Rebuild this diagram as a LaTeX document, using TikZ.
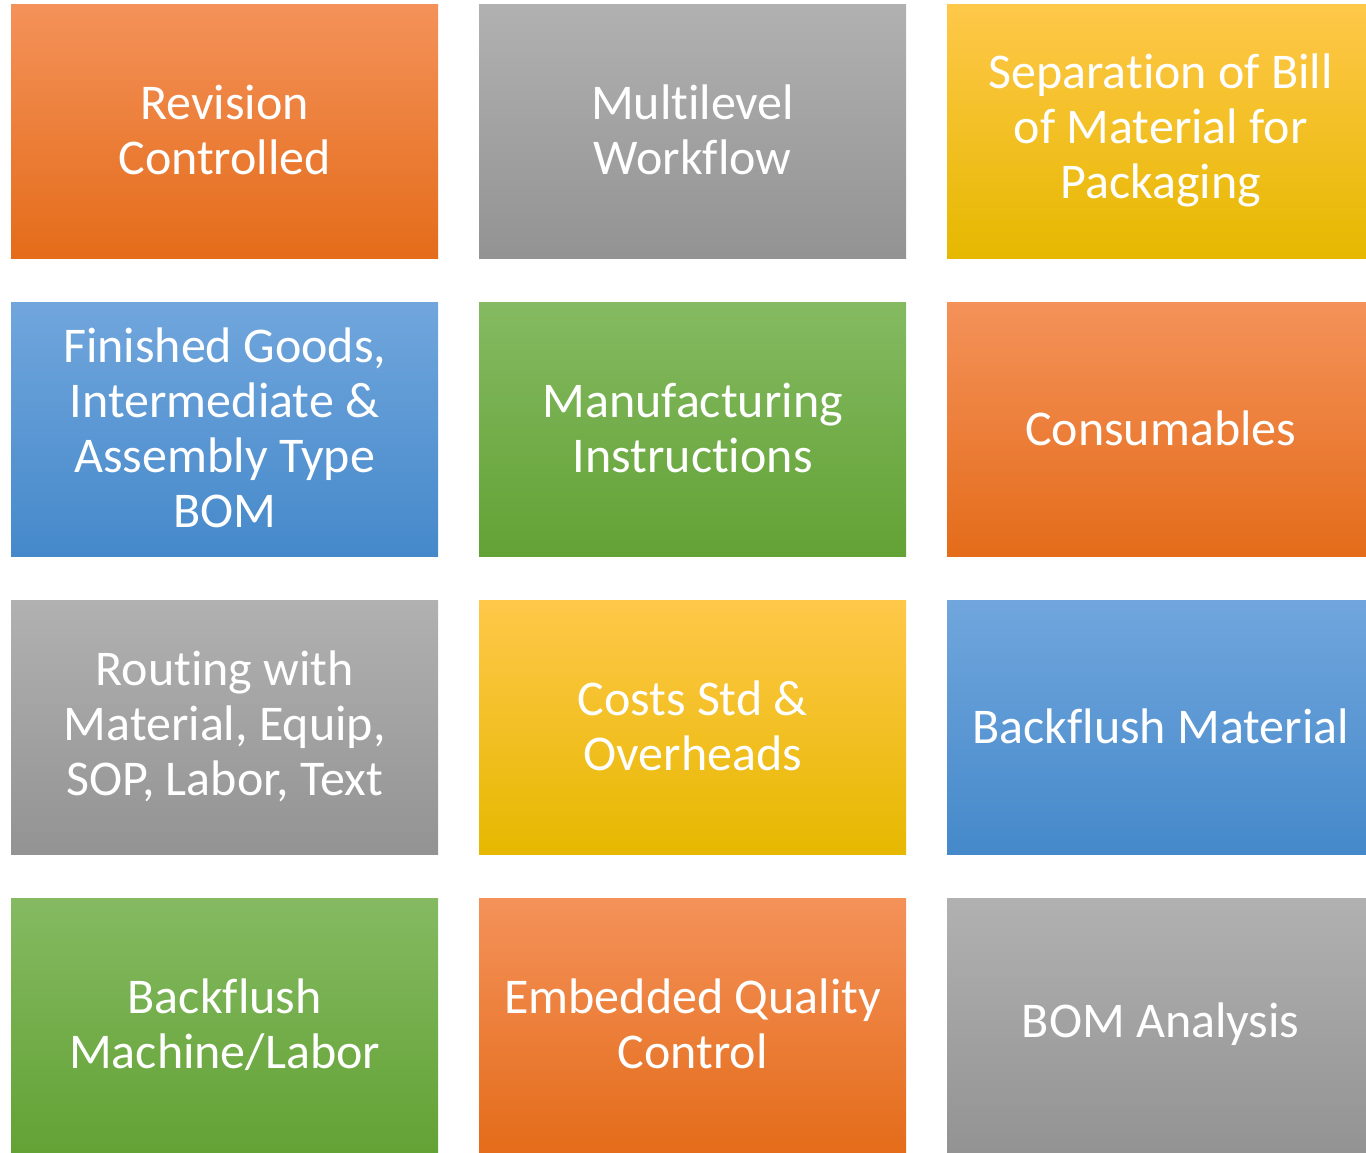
\documentclass[tikz,border=0pt]{standalone}
\usepackage{fontspec}
\setmainfont{Carlito}[Ligatures=CommonOff]
\usepackage{tikz}
\usetikzlibrary{positioning}
\definecolor{orangeT}{HTML}{F4925A}
\definecolor{orangeM}{HTML}{F47B2A}
\definecolor{orangeB}{HTML}{E46C1A}
\definecolor{grayT}{HTML}{B1B1B1}
\definecolor{grayM}{HTML}{A5A5A5}
\definecolor{grayB}{HTML}{939393}
\definecolor{yellowT}{HTML}{FFC84A}
\definecolor{yellowM}{HTML}{FFC000}
\definecolor{yellowB}{HTML}{E6B800}
\definecolor{blueT}{HTML}{71A6DD}
\definecolor{blueM}{HTML}{5B9BD5}
\definecolor{blueB}{HTML}{4589CA}
\definecolor{greenT}{HTML}{85BA62}
\definecolor{greenM}{HTML}{70AD47}
\definecolor{greenB}{HTML}{63A235}
\tikzset{
    tile/.style={anchor=north west, minimum width=427pt, minimum height=256pt,
        inner sep=0pt, text width=420pt, align=flush center, text=white,
        font=\fontsize{50pt}{55pt}\selectfont},
    orangetile/.style={tile, top color=orangeT, middle color=orangeM, bottom color=orangeB},
    graytile/.style={tile, top color=grayT, middle color=grayM, bottom color=grayB},
    yellowtile/.style={tile, top color=yellowT, middle color=yellowM, bottom color=yellowB},
    bluetile/.style={tile, top color=blueT, middle color=blueM, bottom color=blueB},
    greentile/.style={tile, top color=greenT, middle color=greenM, bottom color=greenB}
}

\begin{document}
\begin{tikzpicture}[x=1pt, y=-1pt]
    \useasboundingbox (0,0) rectangle (1366,1152);
    \node[orangetile] (0) at (11,2) {Revision\\Controlled};
    \node[graytile] (1) at (479,2) {Multilevel\\Workflow};
    \node[yellowtile] (2) at (947,2) {Separation of Bill\\of Material for\\Packaging};
    \node[bluetile] (3) at (11,300) {Finished Goods,\\Intermediate \&\\Assembly Type\\BOM};
    \node[greentile] (4) at (479,300) {Manufacturing\\Instructions};
    \node[orangetile] (5) at (947,300) {Consumables};
    \node[graytile] (6) at (11,598) {Routing with\\Material, Equip,\\SOP, Labor, Text};
    \node[yellowtile] (7) at (479,598) {Costs Std \&\\Overheads};
    \node[bluetile] (8) at (947,598) {Backflush Material};
    \node[greentile] (9) at (11,896) {Backflush\\Machine/Labor};
    \node[orangetile] (10) at (479,896) {Embedded Quality\\Control};
    \node[graytile] (11) at (947,896) {BOM Analysis};
    % white bands keep the gaps at the reference size
    \fill[white] (0,0) rectangle (1366,4);
    \fill[white] (0,260) rectangle (1366,302);
    \fill[white] (0,558) rectangle (1366,600);
    \fill[white] (0,856) rectangle (1366,898);
\end{tikzpicture}
\end{document}
